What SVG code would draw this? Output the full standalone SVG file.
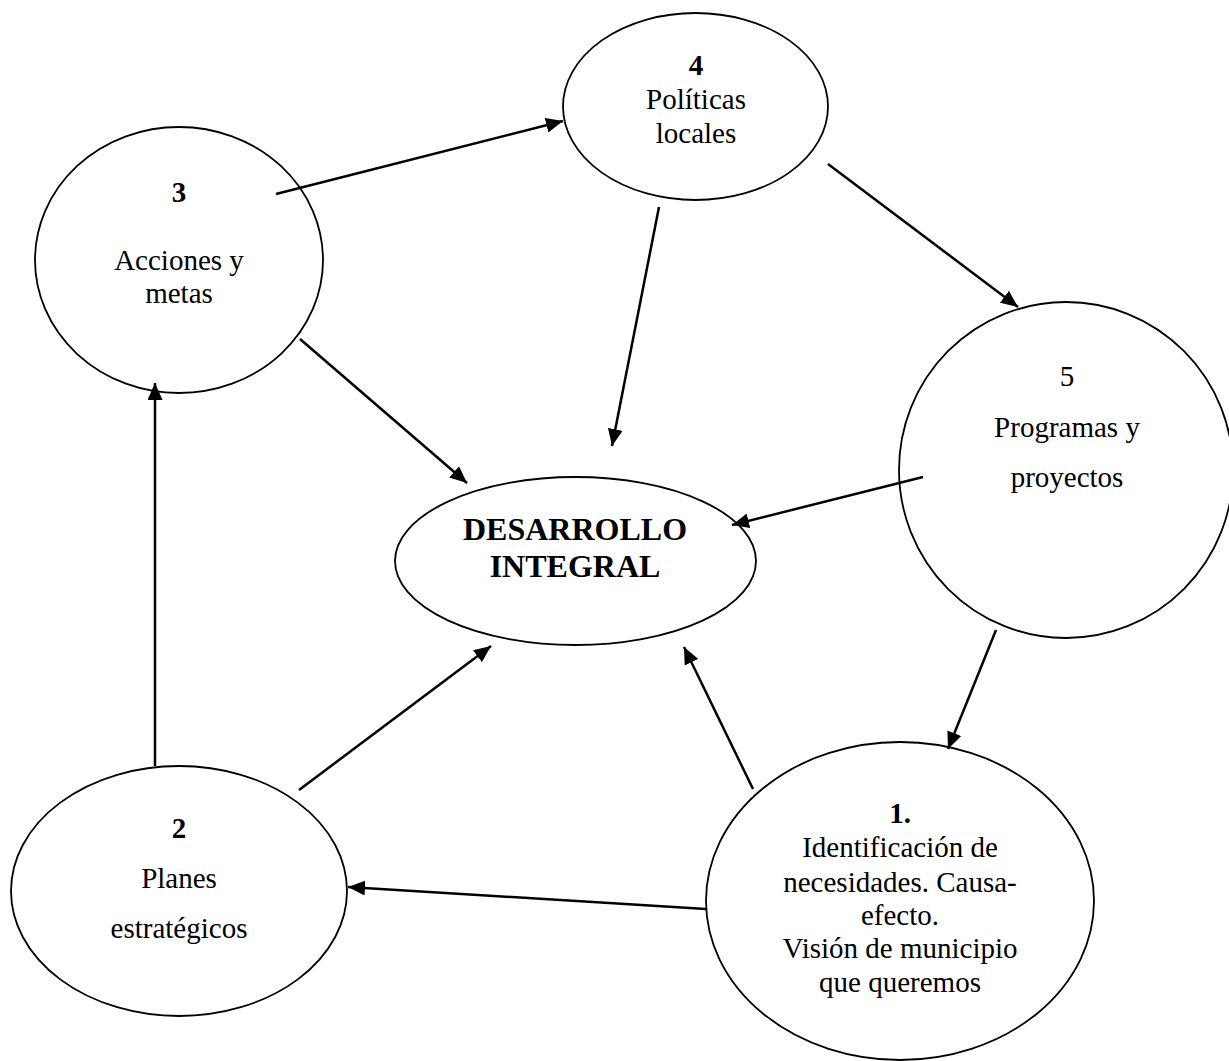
<svg xmlns="http://www.w3.org/2000/svg" width="1229" height="1061" viewBox="0 0 1229 1061">
<style>
.node ellipse{fill:#fff;stroke:#000;stroke-width:1.8}
text{font-family:"Liberation Serif","Times New Roman",serif;font-size:29px;fill:#000;text-anchor:middle}
.b{font-weight:bold}
.big{font-weight:bold;font-size:32px}
.conn line{stroke:#000;stroke-width:2.5;marker-end:url(#ah)}
</style>
<defs>
<marker id="ah" markerUnits="userSpaceOnUse" markerWidth="17" markerHeight="15" refX="17" refY="7.5" orient="auto">
<path d="M0,0 L17,7.5 L0,15 z" fill="#000"/>
</marker>
</defs>
<rect width="1229" height="1061" fill="#fff"/>
<g id="n3" class="node">
<ellipse cx="179" cy="260" rx="144" ry="133"/>
<text x="179" y="202" class="b">3</text>
<text x="179" y="270">Acciones y</text>
<text x="179" y="303">metas</text>
</g>
<g id="n4" class="node">
<ellipse cx="695.5" cy="106.5" rx="132.5" ry="93.5"/>
<text x="696" y="75" class="b">4</text>
<text x="696" y="109">Políticas</text>
<text x="696" y="143">locales</text>
</g>
<g id="n5" class="node">
<ellipse cx="1066" cy="470" rx="167" ry="168"/>
<text x="1067" y="386">5</text>
<text x="1067" y="437">Programas y</text>
<text x="1067" y="487">proyectos</text>
</g>
<g id="center" class="node">
<ellipse cx="575.5" cy="561" rx="180.5" ry="84"/>
<text x="575" y="540" class="big">DESARROLLO</text>
<text x="575" y="577" class="big">INTEGRAL</text>
</g>
<g id="n2" class="node">
<ellipse cx="179" cy="891" rx="168" ry="125"/>
<text x="179" y="838" class="b">2</text>
<text x="179" y="888">Planes</text>
<text x="179" y="938">estratégicos</text>
</g>
<g id="n1" class="node">
<ellipse cx="900" cy="901" rx="194" ry="159"/>
<text x="900" y="823" class="b">1.</text>
<text x="900" y="857">Identificación de</text>
<text x="900" y="892">necesidades. Causa-</text>
<text x="900" y="925">efecto.</text>
<text x="900" y="958">Visión de municipio</text>
<text x="900" y="992">que queremos</text>
</g>
<g id="connectors" class="conn">
<line x1="276" y1="194" x2="563" y2="121"/>
<line x1="659" y1="207" x2="612" y2="446"/>
<line x1="828" y1="164" x2="1018" y2="307"/>
<line x1="300" y1="339" x2="467" y2="483"/>
<line x1="923" y1="477" x2="732" y2="525"/>
<line x1="996" y1="630" x2="948" y2="749"/>
<line x1="753" y1="789" x2="684" y2="647"/>
<line x1="299" y1="790" x2="491" y2="646"/>
<line x1="706" y1="909" x2="348" y2="887"/>
<line x1="155" y1="766" x2="155" y2="383"/>
</g>
</svg>
